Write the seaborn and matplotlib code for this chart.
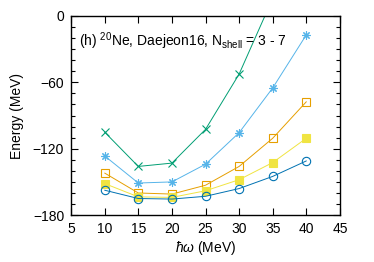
import matplotlib
matplotlib.use("Agg")
import matplotlib.pyplot as plt
from matplotlib.ticker import MultipleLocator
import pandas as pd
import seaborn as sns

hw = [10, 15, 20, 25, 30, 35, 40]
n3 = [-105, -136, -133, -102.5, -52.5, 16, 90]
n4 = [-126.5, -151, -150, -134, -105.5, -65, -17]
n5 = [-142, -160, -161, -153, -136, -110.5, -77.5]
n6 = [-151.5, -163.5, -164, -158, -148, -132.5, -110.5]
n7 = [-157.5, -165, -165.5, -163, -156, -145, -131]

series = {"3": n3, "4": n4, "5": n5, "6": n6, "7": n7}
colors = {"3": "#009e73", "4": "#56b4e9", "5": "#e69f00", "6": "#f0e442", "7": "#0072b2"}
markers = {"3": "x", "4": (8, 2, 0), "5": "s", "6": "s", "7": "o"}
filled = {"3": True, "4": True, "5": False, "6": True, "7": False}

rows = []
for k, vals in series.items():
    for x, y in zip(hw, vals):
        rows.append({"hw": x, "E": y, "N": k})
df = pd.DataFrame(rows)

sns.set_style("ticks", {"axes.edgecolor": "black", "text.color": "black",
                        "axes.labelcolor": "black", "xtick.color": "black",
                        "ytick.color": "black"})
plt.rcParams["font.family"] = ["Liberation Sans", "DejaVu Sans"]
plt.rcParams["mathtext.fontset"] = "custom"
plt.rcParams["mathtext.rm"] = "Liberation Sans"
plt.rcParams["mathtext.it"] = "Liberation Sans:italic"

fig = plt.figure(figsize=(3.74, 2.62), dpi=100)
ax = fig.add_axes([0.19, 0.179, 0.719, 0.76])

for k in series:
    c = colors[k]
    sub = df[df["N"] == k]
    sns.lineplot(data=sub, x="hw", y="E", ax=ax, color=c, lw=0.7,
                 marker=markers[k], markersize=6,
                 markerfacecolor=(c if filled[k] else "none"),
                 markeredgecolor=c, markeredgewidth=0.8, legend=False)

ax.set_xlim(5, 45)
ax.set_ylim(-180, 0)
ax.xaxis.set_major_locator(MultipleLocator(5))
ax.yaxis.set_major_locator(MultipleLocator(60))
ax.yaxis.set_minor_locator(MultipleLocator(10))
ax.tick_params(which="both", direction="in", top=True, right=True, labelsize=10,
               colors="black")
ax.tick_params(which="major", length=5, width=0.8, pad=5)
ax.tick_params(which="minor", length=3, width=0.8)
for s in ax.spines.values():
    s.set_linewidth(1.0)

ax.set_xlabel(r"$\hbar\omega$ (MeV)", fontsize=10, labelpad=2)
ax.set_ylabel("Energy (MeV)", fontsize=10, labelpad=6)
ax.text(0.03, 0.93, r"(h) $^{20}$Ne, Daejeon16, N$_{\rm shell}$ = 3 - 7",
        transform=ax.transAxes, fontsize=10, va="top", ha="left")

fig.savefig("out.png", dpi=100)
